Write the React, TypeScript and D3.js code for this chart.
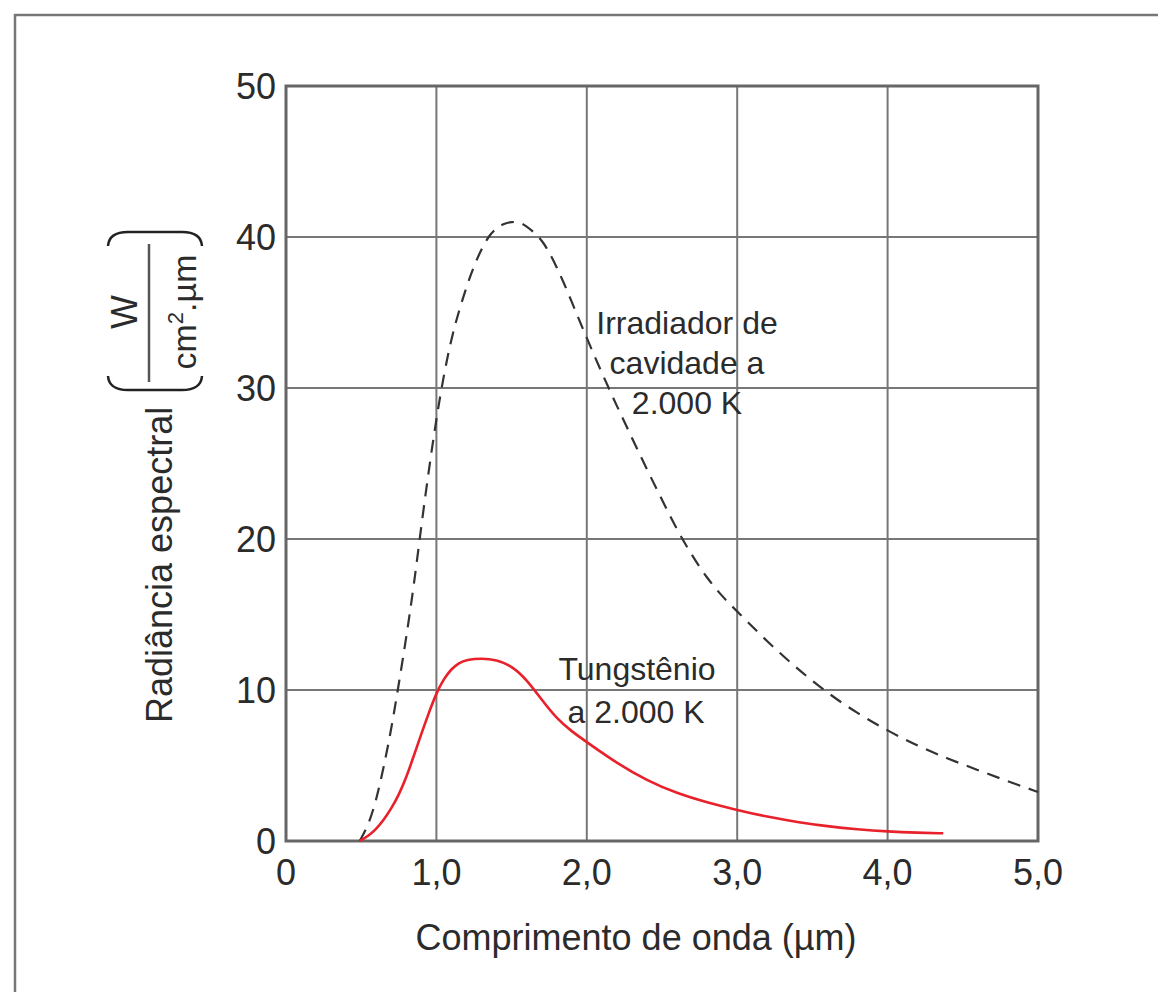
// Spectral radiance: cavity radiator vs tungsten at 2000 K
import * as d3 from 'd3';

// data (wavelength in µm, radiance in W/(cm².µm))
const cavityX = [0.49, 0.55, 0.6, 0.65, 0.7, 0.75, 0.8, 0.85, 0.9, 0.95, 1.0, 1.05, 1.1, 1.15, 1.2, 1.25, 1.3, 1.35, 1.4, 1.45, 1.5, 1.55, 1.6, 1.65, 1.7, 1.75, 1.8, 1.85, 1.9, 1.95, 2.0, 2.1, 2.2, 2.3, 2.4, 2.5, 2.6, 2.7, 2.8, 2.9, 3.0, 3.2, 3.4, 3.6, 3.8, 4.0, 4.2, 4.4, 4.6, 4.8, 5.0];
const cavityY = [0, 1.1, 2.7, 4.9, 7.4, 10.4, 13.5, 16.9, 20.9, 24.6, 28.0, 30.9, 33.3, 35.1, 36.7, 38.1, 39.2, 40.1, 40.6, 40.9, 41.0, 41.0, 40.7, 40.3, 39.8, 39.0, 38.0, 36.9, 35.7, 34.5, 33.3, 31.0, 28.8, 26.7, 24.6, 22.6, 20.6, 18.9, 17.4, 16.2, 15.2, 13.2, 11.4, 9.8, 8.45, 7.3, 6.3, 5.45, 4.7, 3.95, 3.25];

const tungstenX = [0.49, 0.55, 0.6, 0.65, 0.7, 0.75, 0.8, 0.85, 0.9, 0.95, 1.0, 1.05, 1.1, 1.15, 1.2, 1.3, 1.4, 1.5, 1.6, 1.7, 1.8, 1.9, 2.0, 2.2, 2.4, 2.6, 2.8, 3.0, 3.2, 3.4, 3.6, 3.8, 4.0, 4.2, 4.37];
const tungstenY = [0, 0.35, 0.8, 1.4, 2.15, 3.05, 4.2, 5.65, 7.1, 8.5, 9.8, 10.75, 11.4, 11.8, 12.0, 12.1, 12.0, 11.6, 10.7, 9.35, 8.1, 7.25, 6.55, 5.15, 4.0, 3.15, 2.55, 2.05, 1.6, 1.25, 0.97, 0.77, 0.63, 0.55, 0.51];

const xTicks = [0, 1, 2, 3, 4, 5];
const xTickLabels = ['0', '1,0', '2,0', '3,0', '4,0', '5,0'];
const yTicks = [0, 10, 20, 30, 40, 50];
const yTickLabels = ['0', '10', '20', '30', '40', '50'];

const font = '"Liberation Sans", Arial, Helvetica, sans-serif';

export default function App() {
  const width = 1158;
  const height = 992;

  const x = d3.scaleLinear().domain([0, 5]).range([286, 1038]);
  const y = d3.scaleLinear().domain([0, 50]).range([841, 86]);

  // basis spline: smooths the hand-read points a bit
  const line = d3.line<number[]>()
    .x(d => x(d[0]))
    .y(d => y(d[1]))
    .curve(d3.curveBasis);

  const cavity = cavityX.map((v, i) => [v, cavityY[i]]);
  const tungsten = tungstenX.map((v, i) => [v, tungstenY[i]]);

  const textColor = '#2b2b2b';

  return (
    <svg width={width} height={height}
      style={{ position: 'absolute', left: 0, top: 0, background: '#fff' }}
      fontFamily={font}>
      {/* outer frame, runs off the page at right and bottom */}
      <rect x={15} y={15} width={1200} height={1050} fill="none" stroke="#777" strokeWidth={2.5} />

      {/* grid */}
      {xTicks.slice(1, -1).map(t => (
        <line key={'gx' + t} x1={x(t)} x2={x(t)} y1={y(0)} y2={y(50)} stroke="#777" strokeWidth={2} />
      ))}
      {yTicks.slice(1, -1).map(t => (
        <line key={'gy' + t} x1={x(0)} x2={x(5)} y1={y(t)} y2={y(t)} stroke="#777" strokeWidth={2} />
      ))}
      <rect x={x(0)} y={y(50)} width={x(5) - x(0)} height={y(0) - y(50)} fill="none" stroke="#666" strokeWidth={3} />

      {/* curves */}
      <path d={line(cavity) || ''} fill="none" stroke="#333" strokeWidth={2.2} strokeDasharray="13 9" />
      <path d={line(tungsten) || ''} fill="none" stroke="#e8212b" strokeWidth={2.6} />

      {/* tick labels */}
      {yTicks.map((t, i) => (
        <text key={'yl' + t} x={276} y={y(t) + 12.5} textAnchor="end" fontSize={36} fill={textColor}>{yTickLabels[i]}</text>
      ))}
      {xTicks.map((t, i) => (
        <text key={'xl' + t} x={x(t)} y={885} textAnchor="middle" fontSize={36} fill={textColor}>{xTickLabels[i]}</text>
      ))}

      {/* x title */}
      <text x={636} y={950} textAnchor="middle" fontSize={36} fill={textColor}>Comprimento de onda (µm)</text>

      {/* y title with unit fraction */}
      <g transform="translate(172, 723) rotate(-90)" fill={textColor}>
        <text x={0} y={0} fontSize={36}>Radiância espectral</text>
        <text x={411} y={-35} fontSize={36} textAnchor="middle">W</text>
        <line x1={341} x2={479} y1={-23} y2={-23} stroke="#555" strokeWidth={2.5} />
        <text x={411} y={24} fontSize={34} textAnchor="middle">
          cm<tspan dy={-13} fontSize={22}>2</tspan><tspan dy={13}>.µm</tspan>
        </text>
      </g>
      <path d="M108 246 Q109 232 128 232 L182 232 Q201 232 202 246" fill="none" stroke="#222" strokeWidth={2.5} />
      <path d="M108 376 Q109 390 128 390 L182 390 Q201 390 202 376" fill="none" stroke="#222" strokeWidth={2.5} />

      {/* annotations */}
      <g fontSize={32} fill={textColor} textAnchor="middle">
        <text x={687} y={334}>Irradiador de</text>
        <text x={687} y={374}>cavidade a</text>
        <text x={687} y={414}>2.000 K</text>
        <text x={637} y={680}>Tungstênio</text>
        <text x={636} y={723}>a 2.000 K</text>
      </g>
    </svg>
  );
}
